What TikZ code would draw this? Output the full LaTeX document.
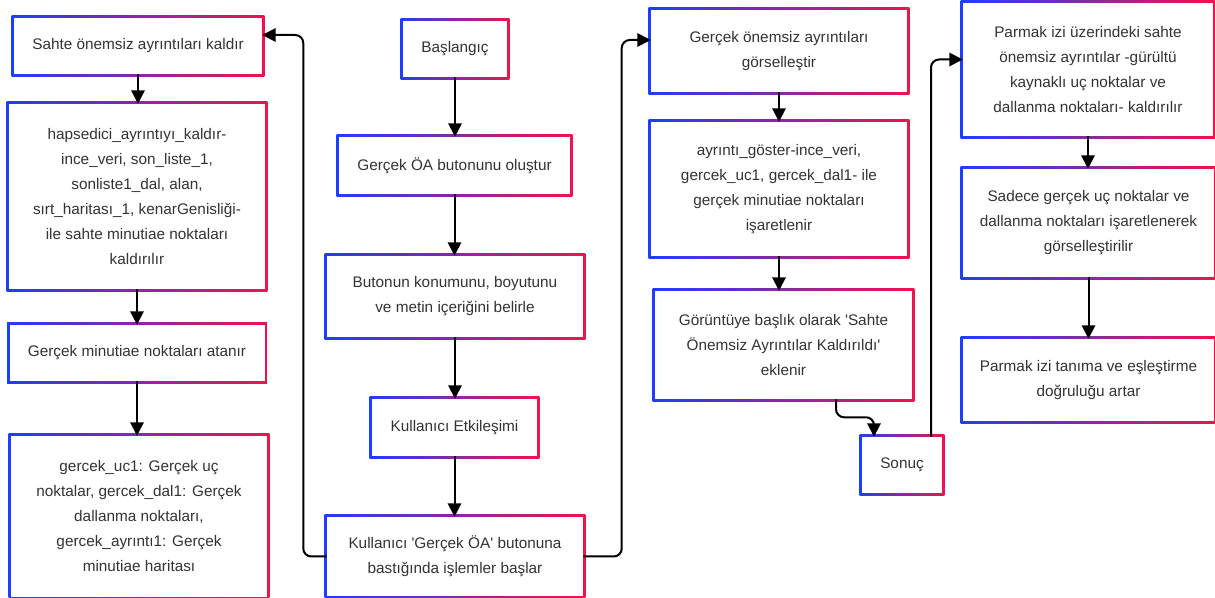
\documentclass[tikz,border=0pt]{standalone}
\usepackage{fontspec}
\setmainfont{Liberation Sans}
\usepackage{tikz}
\usetikzlibrary{arrows.meta,calc,backgrounds}
\definecolor{gblue}{HTML}{1F3DFF}
\definecolor{gred}{HTML}{F2124C}
\definecolor{txtgray}{HTML}{333333}
\tikzset{
  stepbox/.style = {rectangle, fill=white, align=center, inner sep=2pt,
                    text=txtgray, font=\fontsize{11.5}{18.75}\selectfont},
  flow/.style = {-{Triangle[length=10pt,width=10pt]}, line width=1.5pt,
                 rounded corners=6pt},
}
\newcommand{\sq}{\textquotesingle}

\begin{document}
\begin{tikzpicture}[x=0.75pt,y=-0.75pt]

  \useasboundingbox (0,0) rectangle (1215,598);

  % === Left column ===
  \node[stepbox, minimum width=186pt, minimum height=42pt] (b1) at (138,46)
    {Sahte önemsiz ayrıntıları kaldır};
  \node[stepbox, minimum width=192pt, minimum height=138.75pt] (b2) at (137,196.5)
    {hapsedici\_ayrıntıyı\_kaldır-\\ince\_veri, son\_liste\_1,\\sonliste1\_dal, alan,\\
     sırt\_haritası\_1, kenarGenisliği-\\ile sahte minutiae noktaları\\kaldırılır};
  \node[stepbox, minimum width=191.25pt, minimum height=42pt] (b3) at (137,353)
    {Gerçek minutiae noktaları atanır};
  \node[stepbox, minimum width=192pt, minimum height=120.75pt] (b4) at (139,516.5)
    {gercek\_uc1: Gerçek uç\\noktalar, gercek\_dal1: Gerçek\\dallanma noktaları,\\
     gercek\_ayrıntı1: Gerçek\\minutiae haritası};

  % === Middle column ===
  \node[stepbox, minimum width=78pt, minimum height=42pt] (m1) at (455,49)
    {Başlangıç};
  \node[stepbox, minimum width=173.25pt, minimum height=42.75pt] (m2) at (454.5,165.5)
    {Gerçek ÖA butonunu oluştur};
  \node[stepbox, minimum width=192pt, minimum height=60.75pt] (m3) at (455,296.5)
    {Butonun konumunu, boyutunu\\ve metin içeriğini belirle};
  \node[stepbox, minimum width=123.75pt, minimum height=42.75pt] (m4) at (454.5,427.5)
    {Kullanıcı Etkileşimi};
  \node[stepbox, minimum width=192pt, minimum height=59.25pt] (m5) at (455,556.5)
    {Kullanıcı \sq Gerçek ÖA\sq{} butonuna\\bastığında işlemler başlar};

  % === Third column ===
  \node[stepbox, minimum width=192pt, minimum height=61.5pt] (c1) at (779,51)
    {Gerçek önemsiz ayrıntıları\\görselleştir};
  \node[stepbox, minimum width=192pt, minimum height=100.5pt] (c2) at (779,189)
    {ayrıntı\_göster-ince\_veri,\\gercek\_uc1, gercek\_dal1- ile\\gerçek minutiae noktaları\\işaretlenir};
  \node[stepbox, minimum width=192.75pt, minimum height=81pt] (c3) at (783.5,345)
    {Görüntüye başlık olarak \sq Sahte\\Önemsiz Ayrıntılar Kaldırıldı\sq\\eklenir};
  \node[stepbox, minimum width=60pt, minimum height=42pt] (c4) at (902,465)
    {Sonuç};

  % === Right column ===
  \node[stepbox, minimum width=187.5pt, minimum height=99.75pt] (d1) at (1088,69.5)
    {Parmak izi üzerindeki sahte\\önemsiz ayrıntılar -gürültü\\kaynaklı uç noktalar ve\\dallanma noktaları- kaldırılır};
  \node[stepbox, minimum width=188.25pt, minimum height=81pt] (d2) at (1088.5,223)
    {Sadece gerçek uç noktalar ve\\dallanma noktaları işaretlenerek\\görselleştirilir};
  \node[stepbox, minimum width=188.25pt, minimum height=61.5pt] (d3) at (1088.5,380)
    {Parmak izi tanıma ve eşleştirme\\doğruluğu artar};

  % Gradient frames behind the boxes
  \begin{scope}[on background layer]
    \fill[white] (0,0) rectangle (1215,598);
    \foreach \n in {b1,b2,b3,b4,m1,m2,m3,m4,m5,c1,c2,c3,c4,d1,d2,d3} {
      \shade[left color=gblue, right color=gred]
        ([shift={(-1.5pt,-1.5pt)}]\n.south west) rectangle ([shift={(1.5pt,1.5pt)}]\n.north east);
    }
  \end{scope}

  % Edges: middle column
  \draw[flow] (m1.south) -- (m1.south |- m2.north);
  \draw[flow] (m2.south) -- (m2.south |- m3.north);
  \draw[flow] (m3.south) -- (m3.south |- m4.north);
  \draw[flow] (m4.south) -- (m4.south |- m5.north);

  % Edges: branches out of the last middle box
  \draw[flow] (m5.west) -| ($(b1.east)+(41,-11)$) -- ($(b1.east)+(0,-11)$);
  \draw[flow] (m5.east) -| ($(c1.west)+(-29,-11)$) -- ($(c1.west)+(0,-11)$);

  % Edges: left column
  \draw[flow] (b1.south) -- (b1.south |- b2.north);
  \draw[flow] (b2.south) -- (b2.south |- b3.north);
  \draw[flow] (b3.south) -- (b3.south |- b4.north);

  % Edges: third column
  \draw[flow] (c1.south) -- (c1.south |- c2.north);
  \draw[flow] (c2.south) -- (c2.south |- c3.north);
  \draw[flow] ($(c3.south)+(52.5,0)$) -- ++(0,18) -| ($(c4.north)+(-28,0)$);
  \draw[flow] ($(c4.north)+(29,0)$) |- ($(d1.west)+(0,-10)$);

  % Edges: right column
  \draw[flow] (d1.south) -- (d1.south |- d2.north);
  \draw[flow] (d2.south) -- (d2.south |- d3.north);

\end{tikzpicture}
\end{document}
